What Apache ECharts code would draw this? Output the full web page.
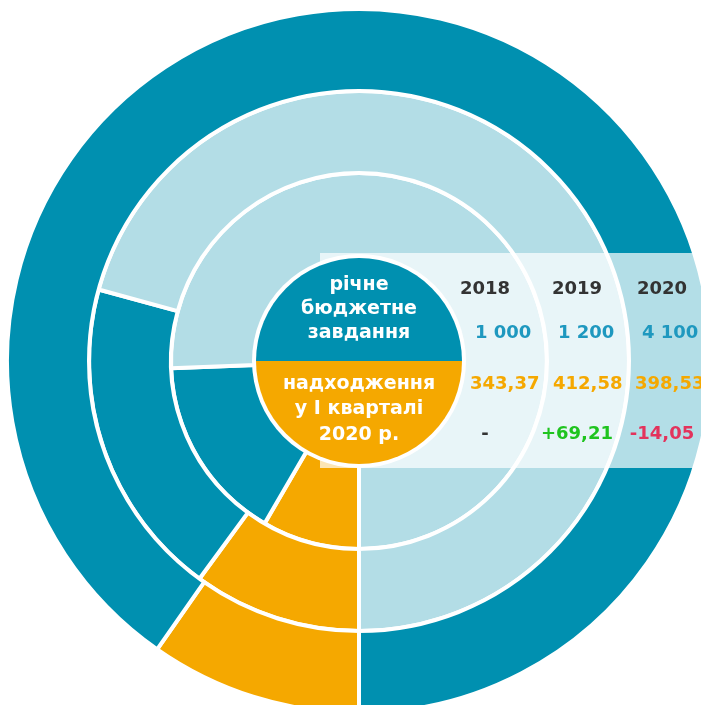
<!DOCTYPE html>
<html>
<head>
<meta charset="utf-8">
<script src="https://cdn.jsdelivr.net/npm/echarts@6/dist/echarts.min.js"></script>
<style>
html, body { margin: 0; padding: 0; background: #fff; }
#chart { width: 701px; height: 705px; }
</style>
</head>
<body>
<div id="chart"></div>
<script>
// дані: річне бюджетне завдання і надходження у І кварталі
var years = ['2018', '2019', '2020']
var budget = [1000, 1200, 4100]
var budgetLabels = ['1 000', '1 200', '4 100']
var received = [343.37, 412.58, 398.53]
var receivedLabels = ['343,37', '412,58', '398,53']
var diffLabels = ['-', '+69,21', '-14,05']
var centerTop = ['річне', 'бюджетне', 'завдання']
var centerBottom = ['надходження', 'у І кварталі', '2020 р.']

var teal = '#0090b0'
var light = '#b3dde6'
var orange = '#f5a800'

var chartMain = function () {
    var box = document.getElementById('chart')
    var myChart = echarts.init(box)
    var cx = 359, cy = 361
    var total = Math.max.apply(null, budget)
    var radii = [[104, 188], [188, 270], [270, 352]]

    var series = []
    budget.forEach(function (b, i) {
        var data = [
            { value: received[i], itemStyle: { color: orange } },
            { value: b - received[i], itemStyle: { color: teal } }
        ]
        if (total - b > 0) {
            data.push({ value: total - b, itemStyle: { color: light } })
        }
        series.push({
            name: years[i],
            type: 'pie',
            z: 1,
            silent: true,
            center: [cx, cy],
            radius: radii[i],
            startAngle: 270,
            clockwise: true,
            label: { show: false },
            labelLine: { show: false },
            emphasis: { disabled: true },
            itemStyle: { borderColor: '#fff', borderWidth: 4 },
            data: data
        })
    })
    // біле коло під центром
    series.push({
        type: 'pie', z: 3, silent: true,
        center: [cx, cy], radius: [0, 107],
        label: { show: false }, labelLine: { show: false },
        emphasis: { disabled: true },
        data: [{ value: 1, itemStyle: { color: '#fff' } }]
    })
    series.push({
        type: 'pie', z: 4, silent: true,
        center: [cx, cy], radius: [0, 103],
        startAngle: 180,
        label: { show: false }, labelLine: { show: false },
        emphasis: { disabled: true },
        data: [
            { value: 1, itemStyle: { color: teal } },
            { value: 1, itemStyle: { color: orange } }
        ]
    })

    var txt = function (s, x, y, color, font, align) {
        return {
            type: 'text', z: 5, silent: true,
            style: {
                text: s, x: x, y: y, fill: color,
                font: font, textAlign: align || 'center', textVerticalAlign: 'middle'
            }
        }
    }
    var elements = [{
        type: 'rect', z: 2, silent: true,
        shape: { x: 320, y: 253, width: 381, height: 215 },
        style: { fill: 'rgba(255,255,255,0.7)' }
    }]
    var centerFont = 'bold 19px "DejaVu Sans"'
    centerTop.forEach(function (s, i) {
        elements.push(txt(s, cx, [285, 309, 333][i], '#fff', centerFont))
    })
    centerBottom.forEach(function (s, i) {
        elements.push(txt(s, cx, [384, 409, 435][i], '#fff', centerFont))
    })
    var cellFont = 'bold 18px "DejaVu Sans"'
    var colX = [485, 577, 662]
    var diffColors = ['#333333', '#1fc41f', '#e3335c']
    years.forEach(function (y, i) {
        elements.push(txt(y, colX[i], 289, '#333333', cellFont))
        elements.push(txt(budgetLabels[i], [475, 558, 642][i], 333, '#1e98bf', cellFont, 'left'))
        elements.push(txt(receivedLabels[i], [470, 553, 635][i], 384, orange, cellFont, 'left'))
        elements.push(txt(diffLabels[i], colX[i], 434, diffColors[i], cellFont))
    })

    var options = {
        animation: false,
        graphic: { elements: elements },
        series: series
    }
    myChart.setOption(options)
}

chartMain()
</script>
</body>
</html>
